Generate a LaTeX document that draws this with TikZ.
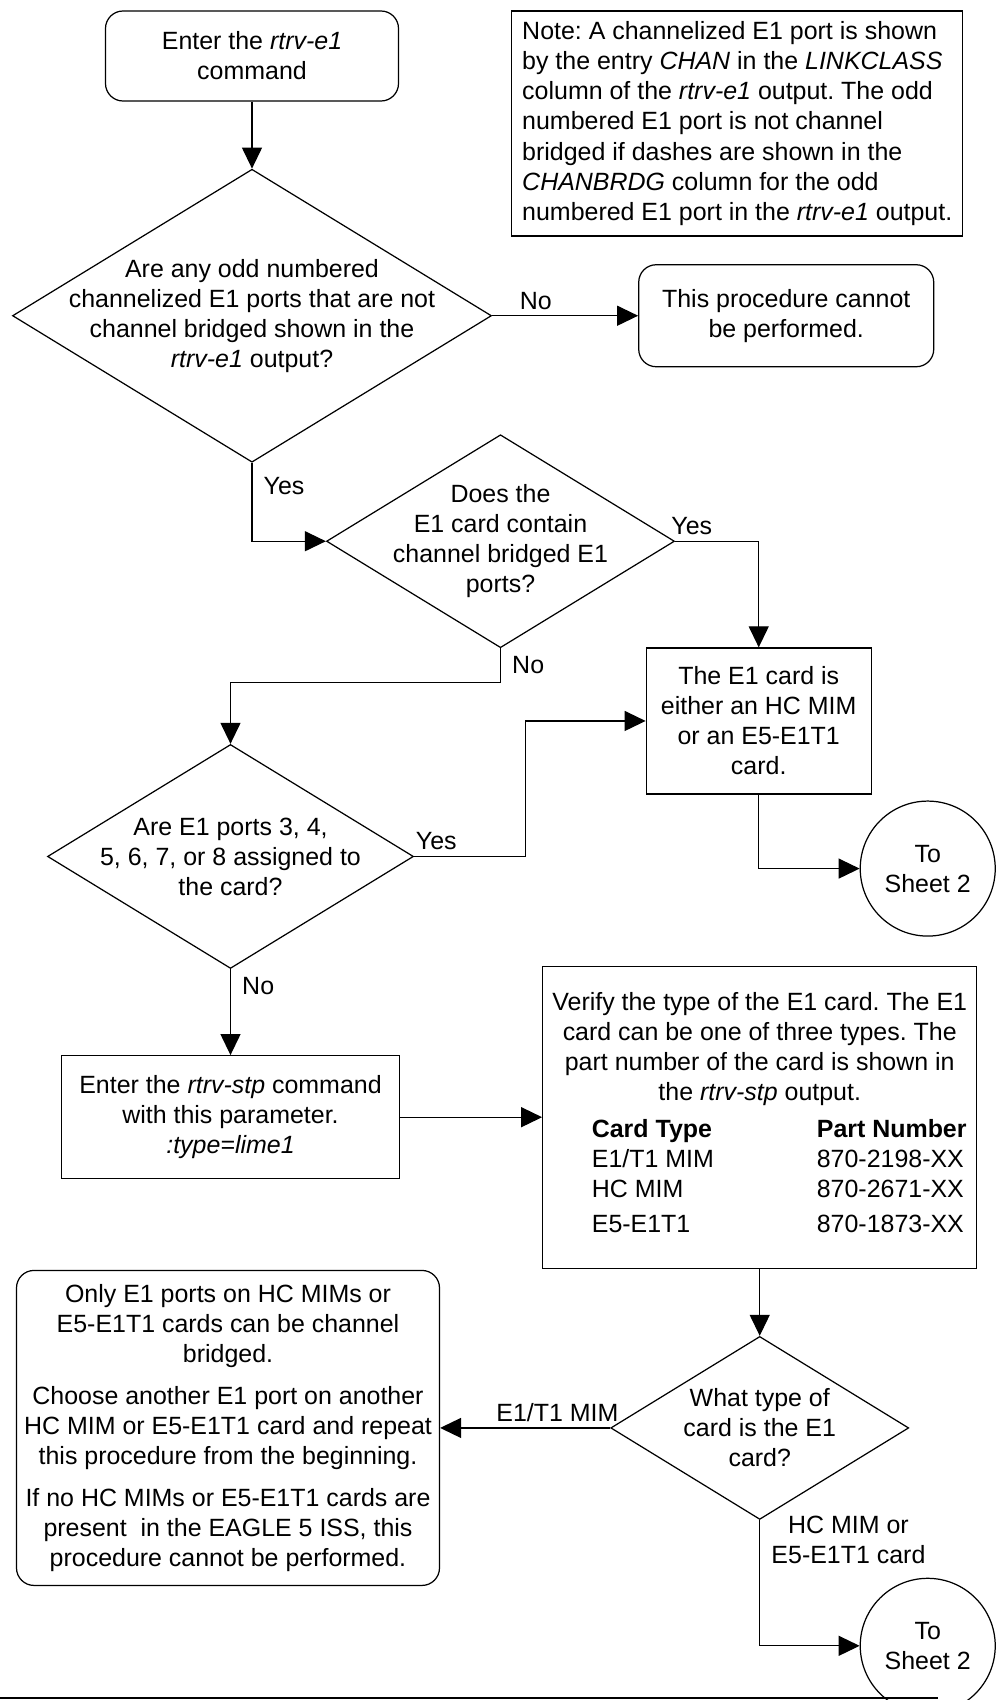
\documentclass[tikz,border=0pt]{standalone}
\usepackage{fontspec}
\setmainfont{Liberation Sans}
\frenchspacing
\usepackage{tikz}
\usetikzlibrary{shapes.geometric, arrows.meta, positioning, calc}

\begin{document}
\begin{tikzpicture}[
  every node/.style={font=\fontsize{14.2}{17.1}\selectfont},
  startstop/.style={rectangle, draw=black, line width=0.7pt, rounded corners=0.35cm, align=center, inner sep=0pt},
  process/.style={rectangle, draw=black, line width=0.7pt, align=center, inner sep=0pt},
  decision/.style={diamond, draw=black, line width=0.7pt, inner sep=0pt},
  connector/.style={circle, draw=black, line width=0.7pt, minimum size=2.7cm, inner sep=0pt, align=center},
  arrow/.style={line width=0.7pt, -{Triangle[length=0.42cm, width=0.4cm]}}
]
\path[use as bounding box, fill=white] (0,0) rectangle (20,-34);

% Nodes
\node[startstop, minimum width=5.86cm, minimum height=1.8cm] at (5.04,-1.12) (start) {Enter the \textit{rtrv-e1}\\command};
\node[process, right=2.24cm of start.north east, anchor=north west, minimum width=9.02cm, minimum height=4.5cm, align=left] (note) {Note: A channelized E1 port is shown\\by the entry \textit{CHAN} in the \textit{LINKCLASS}\\column of the \textit{rtrv-e1} output. The odd\\numbered E1 port is not channel\\bridged if dashes are shown in the\\\textit{CHANBRDG} column for the odd\\numbered E1 port in the \textit{rtrv-e1} output.};
\node[decision, below=1.34cm of start, minimum width=9.58cm, minimum height=5.86cm,
  label={[align=center]center:{Are any odd numbered\\channelized E1 ports that are not\\channel bridged shown in the\\\textit{rtrv-e1} output?}}] (d1) {};
\node[startstop, right=2.92cm of d1, minimum width=5.9cm, minimum height=2.04cm] (cannot) {This procedure cannot\\be performed.};
\node[decision, minimum width=6.96cm, minimum height=4.26cm,
  label={[align=center]center:{Does the\\E1 card contain\\channel bridged E1\\ports?}}] at ($(d1)+(4.97,-4.51)$) (d2) {};
\node[process, below=5.6cm of cannot, xshift=-0.55cm, minimum width=4.5cm, minimum height=2.92cm] (e1card) {The E1 card is\\either an HC MIM\\or an E5-E1T1\\card.};
\node[decision, below=5.62cm of d1, xshift=-0.43cm, minimum width=7.32cm, minimum height=4.48cm,
  label={[align=center]center:{Are E1 ports 3, 4,\\5, 6, 7, or 8 assigned to\\the card?}}] (d3) {};
\node[connector] at ($(e1card.south)+(3.38,-1.48)$) (c1) {To\\Sheet 2};
\node[process, below=1.72cm of d3, minimum width=6.76cm, minimum height=2.46cm] (stp) {Enter the \textit{rtrv-stp} command\\with this parameter.\\\textit{:type=lime1}};
\node[process, right=2.84cm of stp, minimum width=8.68cm, minimum height=6.04cm] (verify) {Verify the type of the E1 card. The E1\\card can be one of three types. The\\part number of the card is shown in\\the \textit{rtrv-stp} output.\\[5pt]
  \hspace*{0.78cm}\begin{tabular}{@{}p{4.5cm}@{}l@{}}
    \textbf{Card Type} & \textbf{Part Number}\\
    E1/T1 MIM & 870-2198-XX\\
    HC MIM & 870-2671-XX\\[3pt]
    E5-E1T1 & 870-1873-XX
  \end{tabular}};
\node[decision, below=1.34cm of verify, minimum width=5.96cm, minimum height=3.66cm,
  label={[align=center]center:{What type of\\card is the E1\\card?}}] (d4) {};
\node[startstop, left=3.4cm of d4, minimum width=8.46cm, minimum height=6.3cm] (only) {Only E1 ports on HC MIMs or\\E5-E1T1 cards can be channel\\bridged.\\[6.8pt]Choose another E1 port on another\\HC MIM or E5-E1T1 card and repeat\\this procedure from the beginning.\\[6.8pt]If no HC MIMs or E5-E1T1 cards are\\present\ \ in the EAGLE 5 ISS, this\\procedure cannot be performed.};
\node[connector, below=12.82cm of c1] (c2) {To\\Sheet 2};

% Arrows
\draw[arrow] (start.south) -- (d1.north);
\draw[arrow] (d1.east) -- node[above, pos=0.3] {No} (cannot.west);
\draw[arrow] (d1.south) |- node[pos=0.15, right=3pt] {Yes} (d2.west);
\draw[arrow] (d2.east) -| node[pos=0.1, above] {Yes} (e1card.north);
\draw[arrow] (d2.south) -- node[right=3pt] {No} ++(0,-0.68) -| (d3.north);
\draw[arrow] (d3.east) -- node[pos=0.2, above] {Yes} ++(2.22,0) |- (e1card.west);
\draw[arrow] (e1card.south) |- (c1.west);
\draw[arrow] (d3.south) -- node[pos=0.2, right=3pt] {No} (stp.north);
\draw[arrow] (stp.east) -- (verify.west);
\draw[arrow] (verify.south) -- (d4.north);
\draw[arrow] (d4.west) -- node[pos=0.31, above] {E1/T1 MIM} (only.east);
\draw[arrow] (d4.south) |- node[pos=0.08, right=3pt, align=center] {HC MIM or\\E5-E1T1 card} (c2.west);

% Page rule
\draw[line width=0.6pt] (0,-33.96) -- (18.76,-33.96);

\end{tikzpicture}
\end{document}
